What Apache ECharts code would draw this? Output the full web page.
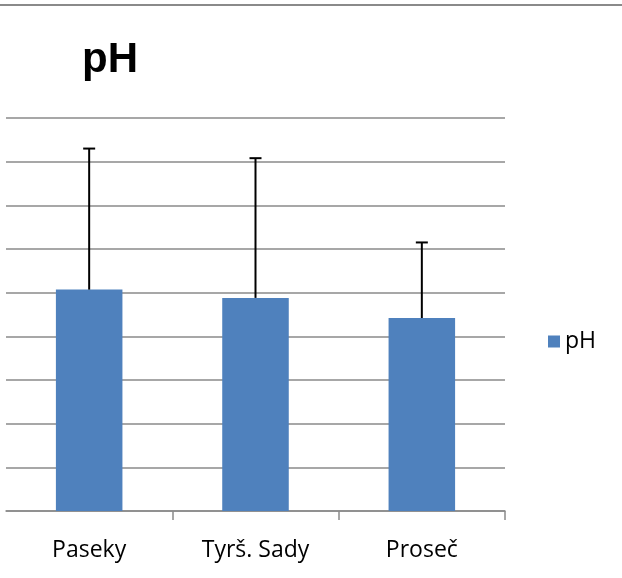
<!DOCTYPE html>
<html>
<head>
<meta charset="utf-8">
<script src="https://cdn.jsdelivr.net/npm/echarts@6/dist/echarts.min.js"></script>
<style>html,body{margin:0;padding:0;background:#fff}#c{width:622px;height:578px}</style>
</head>
<body>
<div id="c"></div>
<script>
const categories = ['Paseky', 'Tyrš. Sady', 'Proseč'];
const phValues = [5.07, 4.88, 4.42];
const phErrors = [3.23, 3.20, 1.73];
const seriesName = 'pH';

const chart = echarts.init(document.getElementById('c'));
chart.setOption({
  animation: false,
  backgroundColor: '#ffffff',
  title: {
    text: 'pH', left: 77, top: 34,
    textStyle: { fontFamily: 'Liberation Sans', fontWeight: 'bold', fontSize: 42, color: '#000' }
  },
  legend: {
    data: [seriesName], left: 543, top: 325, orient: 'vertical',
    icon: 'rect', itemWidth: 12, itemHeight: 12,
    textStyle: { fontFamily: 'Open Sans', fontSize: 23, color: '#000' }
  },
  grid: { left: 6, right: 117, top: 118, bottom: 67 },
  xAxis: {
    type: 'category', data: categories,
    axisLine: { lineStyle: { color: '#8a8a8a', width: 1.5 } },
    axisTick: { show: true, length: 9, interval: function (i) { return i !== 0; }, lineStyle: { color: '#8a8a8a', width: 1.5 } },
    axisLabel: { margin: 28, interval: 0, fontFamily: 'Open Sans', fontSize: 23, color: '#000' }
  },
  yAxis: {
    type: 'value', min: 0, max: 9, interval: 1,
    axisLine: { show: false }, axisTick: { show: false }, axisLabel: { show: false },
    splitLine: { lineStyle: { color: '#8a8a8a', width: 1.5 } }
  },
  series: [
    {
      name: seriesName, type: 'bar', data: phValues, barWidth: '40%',
      itemStyle: { color: '#4f81bd' }
    },
    {
      name: 'err', type: 'custom',
      data: phValues.map((v, i) => [i, v, v + phErrors[i]]),
      z: 10,
      renderItem: function (params, api) {
        const base = api.coord([api.value(0), api.value(1)]);
        const top = api.coord([api.value(0), api.value(2)]);
        const hw = 6;
        return {
          type: 'group',
          children: [
            { type: 'line', shape: { x1: base[0], y1: base[1], x2: top[0], y2: top[1] }, style: { stroke: '#000', lineWidth: 2 } },
            { type: 'line', shape: { x1: top[0] - hw, y1: top[1], x2: top[0] + hw, y2: top[1] }, style: { stroke: '#000', lineWidth: 2 } }
          ]
        };
      }
    }
  ],
  graphic: [
    { type: 'line', shape: { x1: 0, y1: 5, x2: 622, y2: 5 }, style: { stroke: '#8a8a8a', lineWidth: 2 } }
  ]
});
</script>
</body>
</html>
